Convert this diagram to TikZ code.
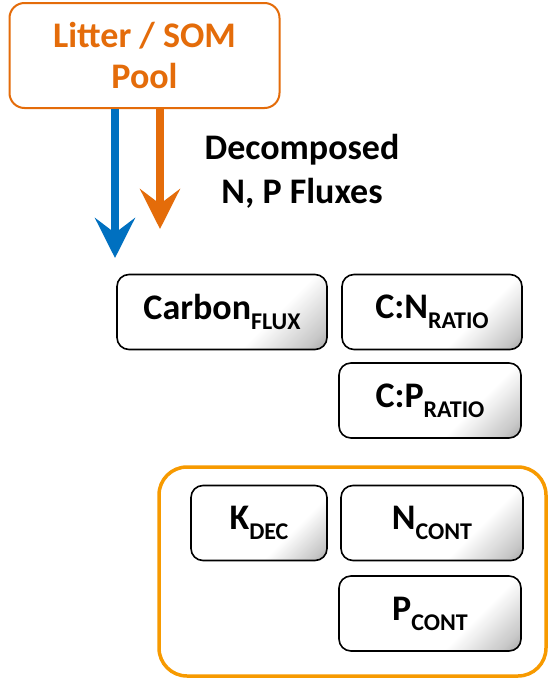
\documentclass[tikz,border=0pt]{standalone}
\usepackage{fontspec}
\setmainfont{Carlito}
\usetikzlibrary{arrows.meta}
\definecolor{dorange}{HTML}{E46C0A}
\definecolor{lorange}{HTML}{F79A00}
\definecolor{dblue}{HTML}{0070C0}
\pgfdeclareverticalshading{boxshade}{100bp}{color(0bp)=(black!55); color(8bp)=(black!50); color(20bp)=(black!22); color(36bp)=(white); color(100bp)=(white)}
\pgfdeclareverticalshading{bgshade}{100bp}{color(0bp)=(white); color(78bp)=(white); color(100bp)=(black!11)}
\newcommand{\sbt}[1]{\raisebox{-0.28em}{\fontsize{24}{24}\selectfont #1}}
\tikzset{
  varbox/.style={draw=black, line width=1.6pt, rounded corners=12pt, shading=boxshade, shading angle=45, minimum height=75pt, inner sep=0pt, font=\fontsize{36}{36}\selectfont\bfseries},
  fluxarrow/.style={line width=7.5pt, -{Stealth[length=40pt, width=40pt, inset=15pt]}},
  lbl/.style={font=\fontsize{36}{41}\selectfont\bfseries, align=center}
}
\begin{document}
\begin{tikzpicture}[x=1pt,y=-1pt]
\useasboundingbox (0,0) rectangle (548,678);
\shade[shading=bgshade] (0,0) rectangle (548,678);
% container
\node[draw=lorange, line width=3.5pt, rounded corners=28pt, minimum width=387pt, minimum height=209pt, inner sep=0pt] (cont) at (352.5,571.5) {};
% litter pool
\node[draw=dorange, line width=2pt, rounded corners=15pt, minimum width=270pt, minimum height=105pt, inner sep=0pt, lbl, text=dorange] (litter) at (144.5,55.5) {Litter / SOM\\Pool};
\node[lbl, font=\fontsize{36}{44}\selectfont\bfseries] (decomp) at (302,171) {Decomposed\\N, P Fluxes};
% variable boxes
\node[varbox, minimum width=210pt] (cflux) at (222,312) {Carbon\sbt{FLUX}};
\node[varbox, minimum width=180pt] (cn) at (432,312) {C:N\sbt{RATIO}};
\node[varbox, minimum width=182pt] (cp) at (430,400.5) {C:P\sbt{RATIO}};
\node[varbox, minimum width=136pt] (kdec) at (259,523) {K\sbt{DEC}};
\node[varbox, minimum width=182pt] (ncont) at (432,523) {N\sbt{CONT}};
\node[varbox, minimum width=182pt] (pcont) at (430,613.5) {P\sbt{CONT}};
% arrows
\coordinate (bend) at (115,258);
\coordinate (oend) at (160,229);
\draw[fluxarrow, draw=dblue, fill=dblue] (litter.south -| bend) -- (bend);
\draw[fluxarrow, draw=dorange, fill=dorange] (litter.south -| oend) -- (oend);
\end{tikzpicture}
\end{document}
